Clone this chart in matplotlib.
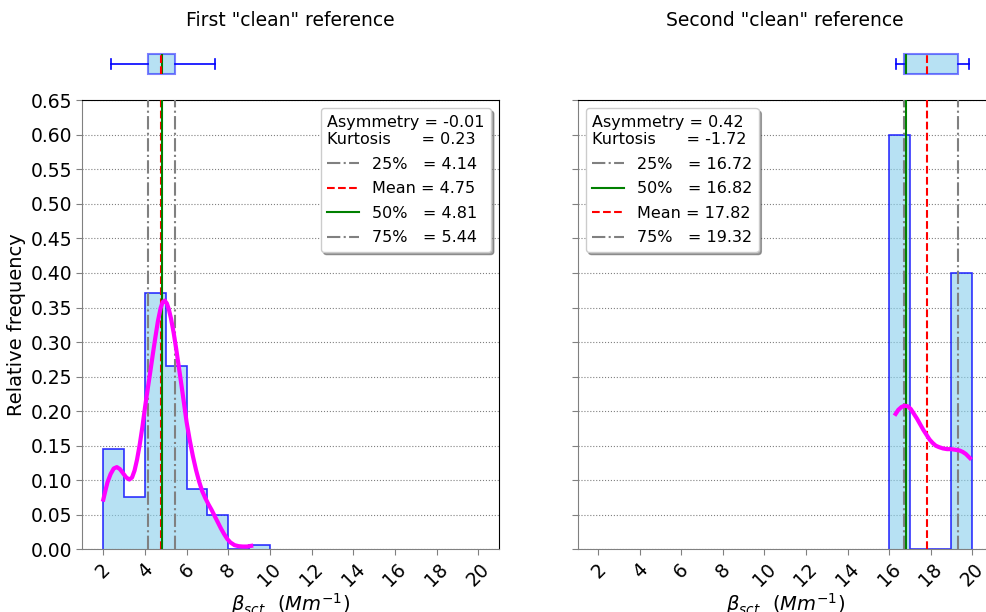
import matplotlib
matplotlib.use('Agg')
import matplotlib.pyplot as plt

# histogram bins (relative frequency)
left_edges = [2, 3, 4, 5, 6, 7, 8, 9, 10]
left_freq = [0.145, 0.075, 0.371, 0.265, 0.087, 0.05, 0.0, 0.006]
right_edges = [16, 17, 18, 19, 20]
right_freq = [0.6, 0.0, 0.0, 0.4]

# kde curves
left_kde_x = [2.0, 2.1, 2.2, 2.35, 2.5, 2.65, 2.8, 2.95, 3.1, 3.25, 3.38, 3.5, 3.62,
              3.75, 3.88, 4.0, 4.12, 4.25, 4.38, 4.5, 4.62, 4.75, 4.85, 4.95, 5.05,
              5.15, 5.25, 5.38, 5.5, 5.62, 5.75, 5.88, 6.0, 6.15, 6.3, 6.45, 6.6,
              6.75, 6.9, 7.05, 7.2, 7.35, 7.5, 7.65, 7.8, 7.95, 8.1, 8.3, 8.5, 8.7,
              8.9, 9.1]
left_kde_y = [0.072, 0.085, 0.097, 0.109, 0.117, 0.119, 0.116, 0.110, 0.104, 0.101,
              0.104, 0.114, 0.130, 0.152, 0.178, 0.205, 0.230, 0.256, 0.283, 0.307,
              0.330, 0.349, 0.358, 0.360, 0.356, 0.347, 0.334, 0.313, 0.290, 0.265,
              0.238, 0.210, 0.184, 0.158, 0.135, 0.115, 0.098, 0.084, 0.074, 0.065,
              0.057, 0.048, 0.039, 0.030, 0.022, 0.015, 0.010, 0.006, 0.0045, 0.004,
              0.004, 0.005]
right_kde_x = [16.32, 16.45, 16.6, 16.75, 16.9, 17.05, 17.2, 17.35, 17.5, 17.65, 17.8,
               17.95, 18.1, 18.25, 18.4, 18.6, 18.8, 19.0, 19.2, 19.4, 19.55, 19.7,
               19.8, 19.9]
right_kde_y = [0.196, 0.202, 0.206, 0.208, 0.207, 0.203, 0.196, 0.189, 0.181, 0.173,
               0.166, 0.159, 0.154, 0.150, 0.148, 0.146, 0.145, 0.145, 0.144, 0.143,
               0.141, 0.138, 0.135, 0.132]

# statistics
left_stats = dict(whislo=2.37, q1=4.14, med=4.81, mean=4.75, q3=5.44, whishi=7.36)
right_stats = dict(whislo=16.34, q1=16.72, med=16.82, mean=17.82, q3=19.32, whishi=19.84)
left_asym, left_kurt = -0.01, 0.23
right_asym, right_kurt = 0.42, -1.72

titles = ['First "clean" reference', 'Second "clean" reference']
xticks = list(range(2, 21, 2))

fill_c = (135/255, 206/255, 235/255, 0.6)
edge_c = (0, 0, 1, 0.8)

fig = plt.figure(figsize=(9.87, 6.12), dpi=100)

W, H = 987, 612
ax_pos = [(82.5, 499.0), (577.7, 992.8)]
bottom, top = 549.3, 100.3

panels = [
    (left_edges, left_freq, left_kde_x, left_kde_y, left_stats, left_asym, left_kurt, ['q1', 'mean', 'med', 'q3']),
    (right_edges, right_freq, right_kde_x, right_kde_y, right_stats, right_asym, right_kurt, ['q1', 'med', 'mean', 'q3']),
]

styles = {
    'q1': dict(color='gray', ls='-.', name='25%  '),
    'q3': dict(color='gray', ls='-.', name='75%  '),
    'med': dict(color='green', ls='-', name='50%  '),
    'mean': dict(color='red', ls='--', name='Mean'),
}

for i, (edges, freq, kx, ky, st, asym, kurt, order) in enumerate(panels):
    x0, x1 = ax_pos[i]
    ax = fig.add_axes([x0 / W, 1 - bottom / H, (x1 - x0) / W, (bottom - top) / H])
    bax = fig.add_axes([x0 / W, 1 - 88 / H, (x1 - x0) / W, 48 / H])

    ax.stairs(freq, edges, fill=True, facecolor=fill_c, edgecolor=edge_c, lw=1.2, zorder=2)
    ax.plot(kx, ky, color='magenta', lw=3, zorder=4, solid_joinstyle='round')

    for key in order:
        s = styles[key]
        ax.axvline(st[key], color=s['color'], ls=s['ls'], lw=1.5, zorder=3,
                   label=f"{s['name']} = {st[key]:.2f}")

    ax.set_xlim(1, 21)
    ax.set_ylim(0, 0.65)
    ax.set_yticks([k * 0.05 for k in range(14)])
    ax.set_xticks(xticks)
    ax.tick_params(axis='both', labelsize=13.5, color='gray', length=4)
    ax.tick_params(axis='x', rotation=45)
    ax.grid(axis='y', ls=':', color='gray', lw=0.8, zorder=0)
    ax.set_axisbelow(True)
    ax.spines['left'].set_color('gray')
    ax.spines['bottom'].set_color('gray')
    ax.set_xlabel(r'$\beta_{sct.}$ $(Mm^{-1})$', fontsize=14, labelpad=1)
    if i == 0:
        ax.set_ylabel('Relative frequency', fontsize=14, labelpad=3)
    else:
        ax.set_yticklabels([])

    title = f"Asymmetry = {asym:.2f}\nKurtosis      = {kurt:.2f}"
    ax.legend(loc='upper right' if i == 0 else 'upper left', title=title,
              title_fontsize=11.5, fontsize=11.5, alignment='left', shadow=True,
              framealpha=1, handlelength=2, labelspacing=0.6)

    # boxplot on top
    bax.bxp([st], vert=False, widths=0.4, showmeans=True, meanline=True,
            showfliers=False, patch_artist=True,
            boxprops=dict(facecolor=fill_c, edgecolor=(0, 0, 1, 0.5), lw=1.5),
            whiskerprops=dict(color='blue', lw=1.2),
            capprops=dict(color='blue', lw=1.2),
            medianprops=dict(color='green', lw=1.5),
            meanprops=dict(color='red', ls='--', lw=1.5))
    bax.set_xlim(1, 21)
    bax.set_ylim(0.5, 1.5)
    bax.axis('off')
    bax.set_title(titles[i], fontsize=13.5, pad=10)

fig.savefig('out.png', dpi=100)
